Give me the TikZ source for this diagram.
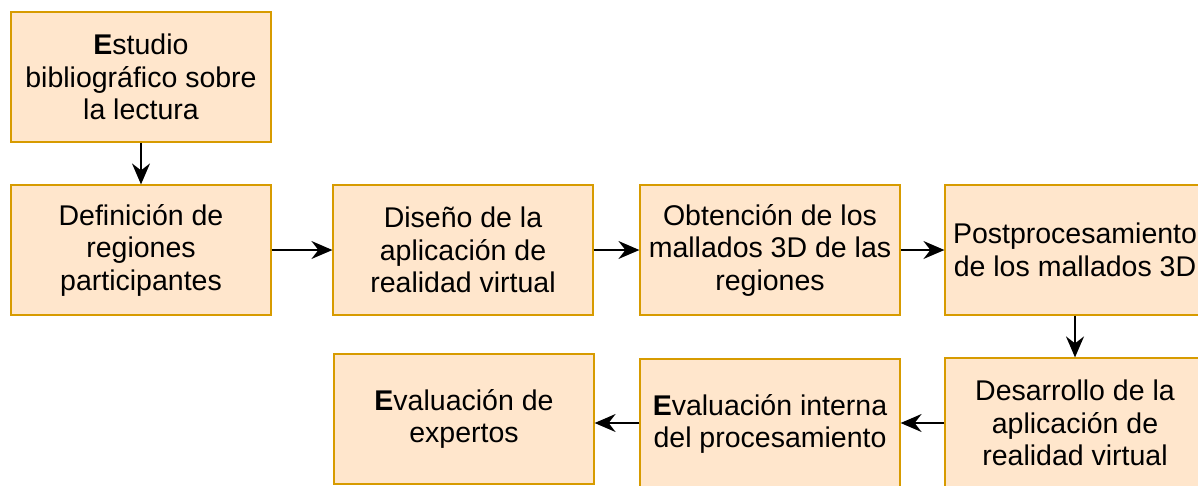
\documentclass[tikz,border=0pt]{standalone}
\usepackage{fontspec}
\setmainfont{Liberation Sans}
\usetikzlibrary{arrows.meta}
\definecolor{fondo}{HTML}{FFE6CC}
\definecolor{borde}{HTML}{D79B00}
\tikzset{
    paso/.style={draw=borde, fill=fondo, line width=1.2pt, minimum width=260pt, minimum height=130pt,
        inner sep=0pt, align=center, font=\fontsize{28.5}{32.5}\selectfont},
    flecha/.style={line width=1.6pt, -{Stealth[length=21pt,width=18pt,inset=7pt]}}
}
\begin{document}
\begin{tikzpicture}[x=1pt,y=-1pt]
        \clip (0,0) rectangle (1198,485);

        % Fila superior (estudio previo)
        \node[paso](estudio) at (141,77) {\textbf{E}studio\\bibliográfico sobre\\la lectura};

        % Fila central (definición, diseño, obtención, postprocesamiento)
        \node[paso](definicion) at (141,250) {Definición de\\regiones\\participantes};
        \node[paso](diseno) at (463,250) {Diseño de la\\aplicación de\\realidad virtual};
        \node[paso](obtencion) at (770,250) {Obtención de los\\mallados 3D de las\\regiones};
        \node[paso](postpro) at (1075,250) {Postprocesamiento\\de los mallados 3D};

        % Fila inferior (desarrollo y evaluaciones)
        \node[paso](desarrollo) at (1075,423) {Desarrollo de la\\aplicación de\\realidad virtual};
        \node[paso](interna) at (770,424) {\textbf{E}valuación interna\\del procesamiento};
        \node[paso](expertos) at (464,419) {\textbf{E}valuación de\\expertos};

        % Conexiones entre pasos
        \draw[flecha] (estudio)--(definicion);
        \draw[flecha] (definicion)--(diseno);
        \draw[flecha] (diseno)--(obtencion);
        \draw[flecha] (obtencion)--(postpro);
        \draw[flecha] (postpro)--(desarrollo);
        \draw[flecha] (desarrollo.west|-0,423)--(interna.east|-0,423);
        \draw[flecha] (interna.west|-0,423)--(expertos.east|-0,423);
    \end{tikzpicture}
\end{document}
